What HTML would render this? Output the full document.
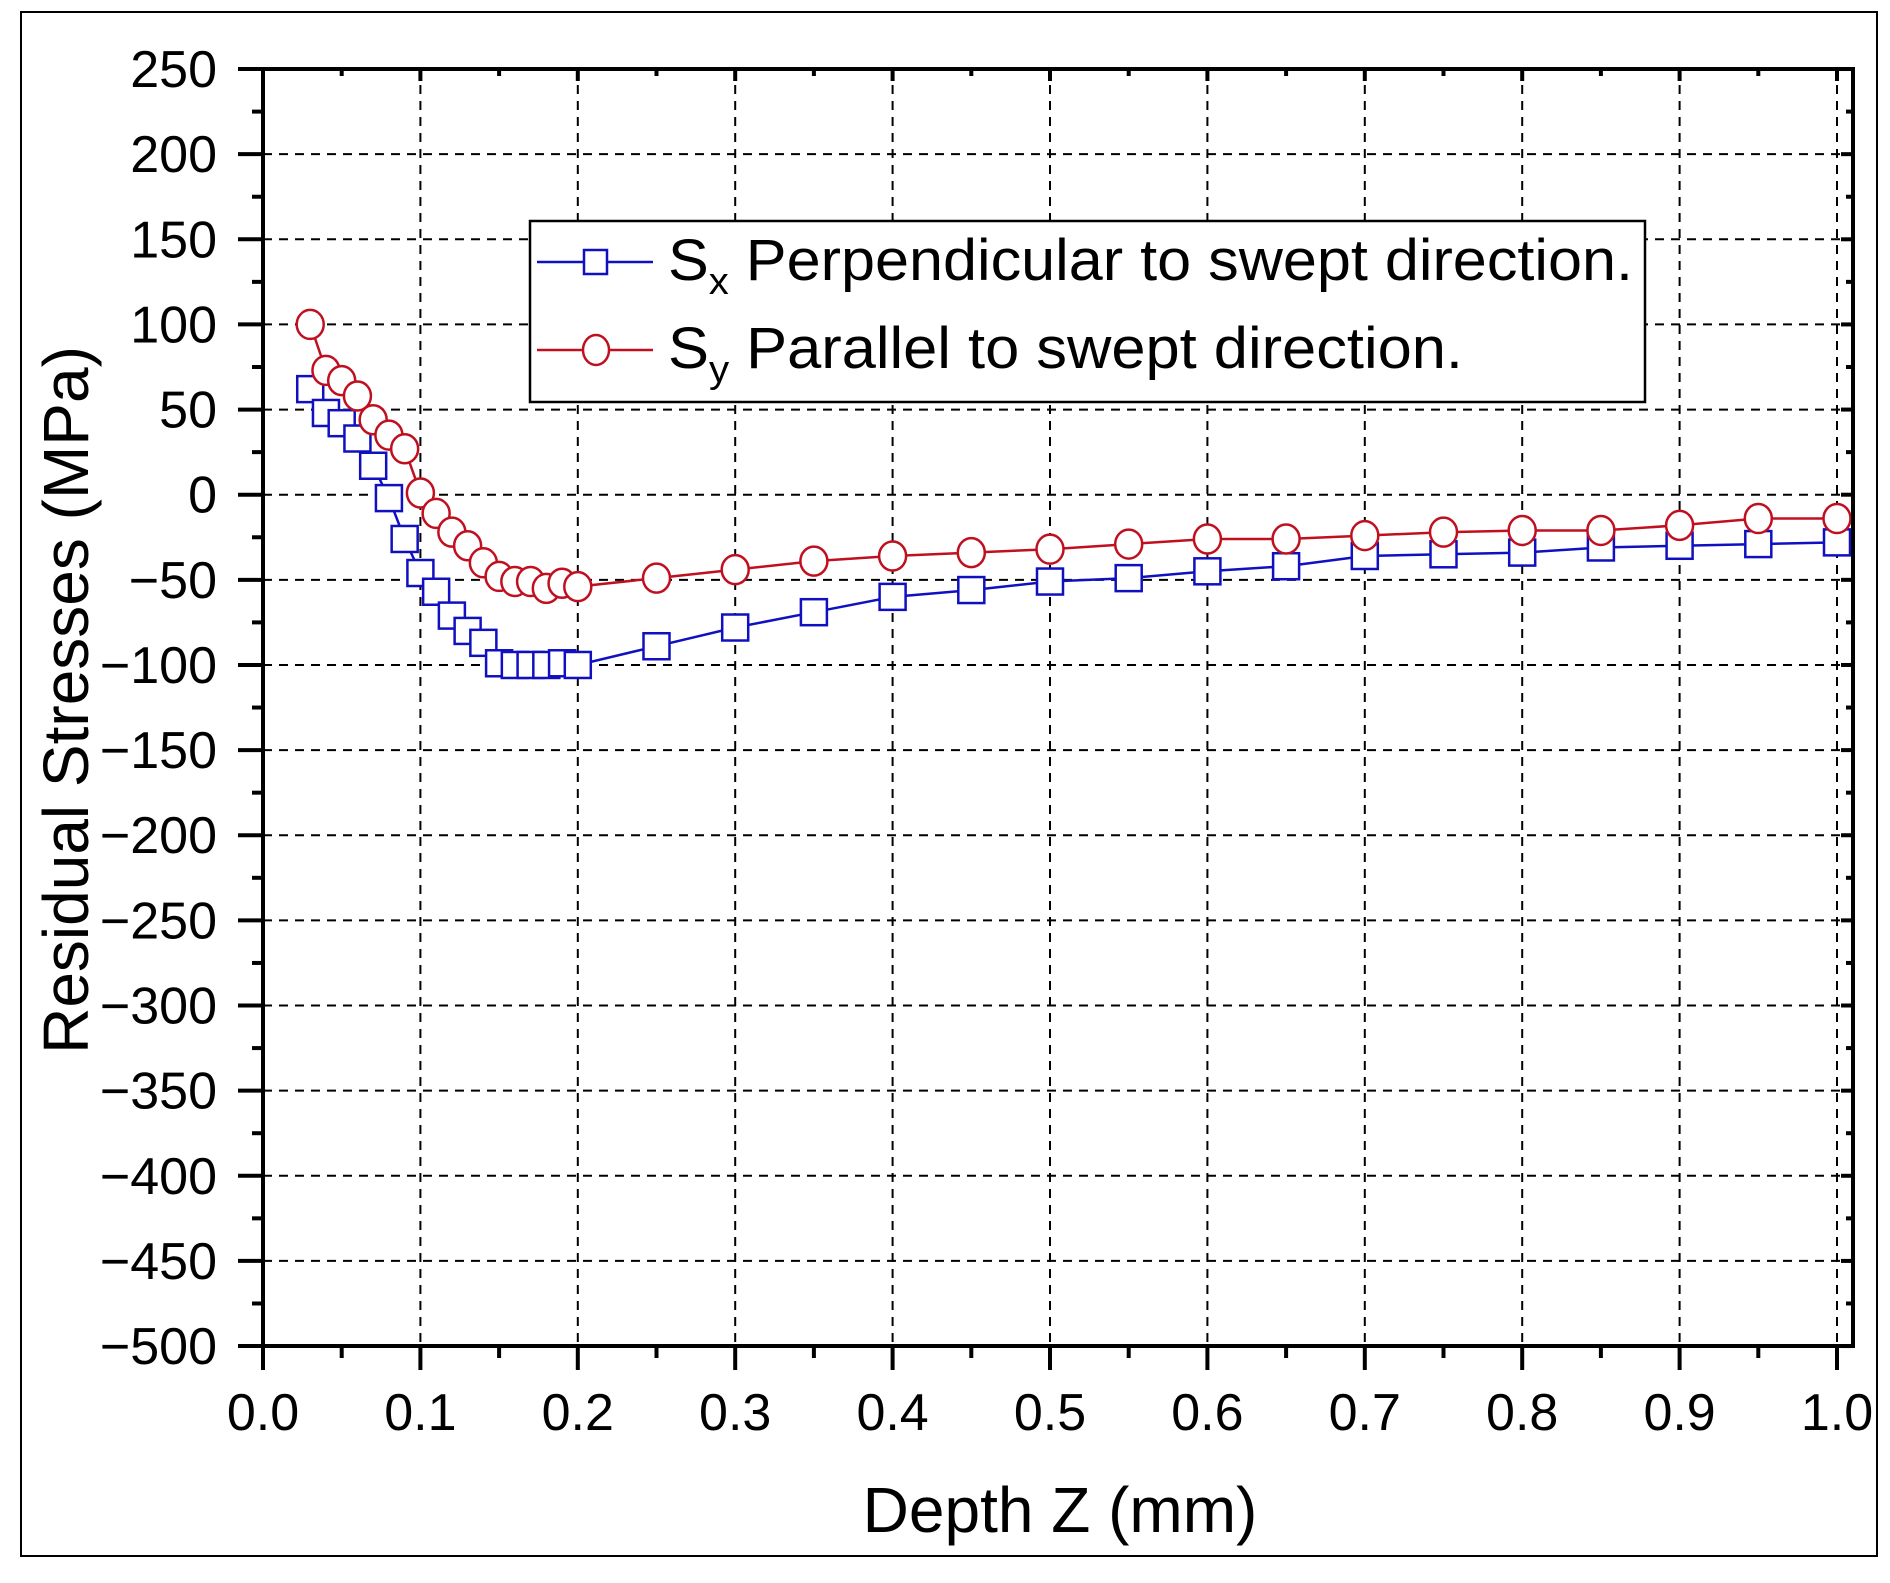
<!DOCTYPE html>
<html><head><meta charset="utf-8">
<style>html,body{margin:0;padding:0;background:#fff}svg{display:block}</style>
</head><body>
<svg id="c" width="1890" height="1583" viewBox="0 0 1890 1583" xmlns="http://www.w3.org/2000/svg" font-family="Liberation Sans, Arial, sans-serif">
<rect x="0" y="0" width="1890" height="1583" fill="#fff"/>
<rect x="21" y="12" width="1856" height="1544" fill="none" stroke="#000" stroke-width="2"/>
<g id="grid" stroke="#000" stroke-width="2" stroke-dasharray="9,7" fill="none"></g>
<g id="ticks" stroke="#000" stroke-width="4" fill="none"></g>
<g id="lbl" font-size="52" fill="#000"></g>
<g id="series"></g>
<rect x="263" y="69" width="1590" height="1277" fill="none" stroke="#000" stroke-width="4"/>
<!-- legend -->
<rect x="530" y="221" width="1115" height="181" fill="#fff" stroke="#000" stroke-width="2.5"/>
<line x1="537" y1="262" x2="653" y2="262" stroke="#1010c0" stroke-width="2.5"/>
<rect x="584" y="250" width="23" height="24" fill="#fff" stroke="#1010c0" stroke-width="2.5"/>
<line x1="537" y1="350" x2="653" y2="350" stroke="#c01020" stroke-width="2.5"/>
<ellipse cx="596" cy="350" rx="13" ry="15" fill="#fff" stroke="#c01020" stroke-width="2.5"/>
<text x="668" y="280" font-size="58" textLength="965" lengthAdjust="spacingAndGlyphs">S<tspan font-size="38" dy="14">x</tspan><tspan dy="-14"> Perpendicular to swept direction.</tspan></text>
<text x="668" y="368" font-size="58" textLength="795" lengthAdjust="spacingAndGlyphs">S<tspan font-size="38" dy="14">y</tspan><tspan dy="-14"> Parallel to swept direction.</tspan></text>
<text x="1060" y="1532" font-size="64" text-anchor="middle">Depth Z (mm)</text>
<text transform="translate(88,700) rotate(-90)" font-size="64" text-anchor="middle">Residual Stresses (MPa)</text>
</svg>
<script>
const NS="http://www.w3.org/2000/svg";
const X=v=>263+v*1574, Y=v=>494.7-v*1.7027;
function el(p,t,a){const e=document.createElementNS(NS,t);for(const k in a)e.setAttribute(k,a[k]);p.appendChild(e);return e;}
const g=document.getElementById('grid'),tk=document.getElementById('ticks'),lb=document.getElementById('lbl');
for(let v=200;v>=-450;v-=50){el(g,'line',{x1:263,x2:1853,y1:Y(v),y2:Y(v)});}
for(let i=1;i<=10;i++){el(g,'line',{x1:X(i/10),x2:X(i/10),y1:69,y2:1346});}
for(let v=250;v>=-500;v-=25){const y=Y(v),maj=v%50==0;
 el(tk,'line',{x1:maj?238:252,x2:263,y1:y,y2:y});
 el(tk,'line',{x1:1853,x2:maj?1841:1846,y1:y,y2:y});
 if(maj){const t=el(lb,'text',{x:217,y:y+18,'text-anchor':'end'});t.textContent=(v<0?'\u2212'+(-v):v);}}
for(let i=0;i<=20;i++){const x=X(i/20),maj=i%2==0;
 el(tk,'line',{x1:x,x2:x,y1:1346,y2:maj?1370:1358});
 el(tk,'line',{x1:x,x2:x,y1:69,y2:maj?81:76});
 if(maj){const t=el(lb,'text',{x:x,y:1430,'text-anchor':'middle'});t.textContent=(i/20).toFixed(1);}}
const xs=[.03,.04,.05,.06,.07,.08,.09,.10,.11,.12,.13,.14,.15,.16,.17,.18,.19,.20,.25,.30,.35,.40,.45,.50,.55,.60,.65,.70,.75,.80,.85,.90,.95,1.0];
const sx=[62,48,42,33,17,-2,-26,-46,-57,-71,-80,-87,-99,-100,-100,-100,-99,-100,-89,-78,-69,-60,-56,-51,-49,-45,-42,-36,-35,-34,-31,-30,-29,-28];
const sy=[100,73,67,58,44,35,27,1,-11,-22,-30,-40,-48,-51,-51,-55,-52,-54,-49,-44,-39,-36,-34,-32,-29,-26,-26,-24,-22,-21,-21,-18,-14,-14];
const s=document.getElementById('series');
const pts=a=>xs.map((x,i)=>X(x).toFixed(1)+','+Y(a[i]).toFixed(1)).join(' ');
el(s,'polyline',{points:pts(sx),fill:'none',stroke:'#1010c0','stroke-width':2.5});
xs.forEach((x,i)=>el(s,'rect',{x:X(x)-13,y:Y(sx[i])-13,width:26,height:26,fill:'#fff',stroke:'#1010c0','stroke-width':2.5}));
el(s,'polyline',{points:pts(sy),fill:'none',stroke:'#c01020','stroke-width':2.5});
xs.forEach((x,i)=>el(s,'ellipse',{cx:X(x),cy:Y(sy[i]),rx:13.5,ry:14.5,fill:'#fff',stroke:'#c01020','stroke-width':2.5}));
</script>
</body></html>
